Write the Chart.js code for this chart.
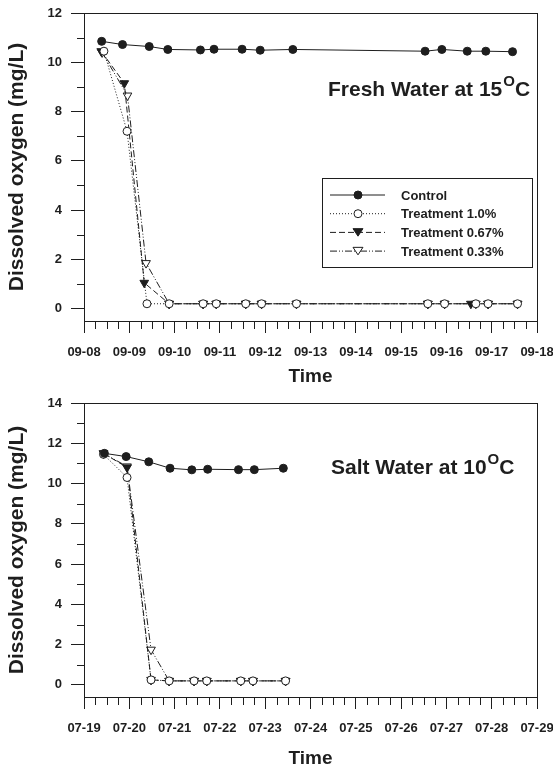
<!DOCTYPE html>
<html>
<head>
<meta charset="utf-8">
<script src="https://cdn.jsdelivr.net/npm/chart.js@4.4.1/dist/chart.umd.min.js"></script>
<style>
  body { margin: 0; background: #fff; width: 553px; height: 766px; overflow: hidden; position: relative; }
  canvas { position: absolute; left: 0; }
  #fresh { top: 0; }
  #salt { top: 380px; }
</style>
</head>
<body>
<canvas id="fresh" width="553" height="388"></canvas>
<canvas id="salt" width="553" height="390"></canvas>
<script>
// tick labels (days since first date)
const freshDates = ['09-08', '09-09', '09-10', '09-11', '09-12', '09-13', '09-14', '09-15', '09-16', '09-17', '09-18'];
const saltDates = ['07-19', '07-20', '07-21', '07-22', '07-23', '07-24', '07-25', '07-26', '07-27', '07-28', '07-29'];
const freshYTicks = [0, 2, 4, 6, 8, 10, 12];
const saltYTicks = [0, 2, 4, 6, 8, 10, 12, 14];

// fresh water 15C
const freshControlT = [0.39, 0.85, 1.44, 1.85, 2.57, 2.87, 3.49, 3.89, 4.61, 7.53, 7.90, 8.46, 8.87, 9.46];
const freshControl = [10.85, 10.72, 10.64, 10.52, 10.50, 10.53, 10.53, 10.49, 10.52, 10.45, 10.52, 10.45, 10.45, 10.43];
const fresh10T = [0.44, 0.95, 1.39, 1.88, 2.63, 2.92, 3.57, 3.92, 4.69, 7.59, 7.96, 8.65, 8.92, 9.57];
const fresh10 = [10.45, 7.2, 0.2, 0.2, 0.2, 0.2, 0.2, 0.2, 0.2, 0.2, 0.2, 0.2, 0.2, 0.2];
const fresh067T = [0.38, 0.89, 1.33, 1.88, 2.63, 2.92, 3.57, 3.92, 4.69, 7.59, 7.96, 8.54, 8.92, 9.57];
const fresh067 = [10.45, 9.15, 1.05, 0.2, 0.2, 0.2, 0.2, 0.2, 0.2, 0.2, 0.2, 0.2, 0.2, 0.2];
const fresh033T = [0.40, 0.96, 1.37, 1.88, 2.63, 2.92, 3.57, 3.92, 4.69, 7.59, 7.96, 8.65, 8.92, 9.57];
const fresh033 = [10.4, 8.65, 1.85, 0.2, 0.2, 0.2, 0.2, 0.2, 0.2, 0.2, 0.2, 0.2, 0.2, 0.2];

// salt water 10C
const saltControlT = [0.45, 0.93, 1.43, 1.90, 2.38, 2.73, 3.41, 3.76, 4.40];
const saltControl = [11.5, 11.34, 11.08, 10.76, 10.68, 10.71, 10.69, 10.69, 10.76];
const saltTreatT = [0.43, 0.95, 1.48, 1.88, 2.43, 2.71, 3.46, 3.73, 4.45];
const salt10 = [11.45, 10.3, 0.25, 0.2, 0.2, 0.2, 0.2, 0.2, 0.2];
const salt067 = [11.5, 10.8, 0.25, 0.2, 0.2, 0.2, 0.2, 0.2, 0.2];
const salt033 = [11.5, 10.85, 1.75, 0.2, 0.2, 0.2, 0.2, 0.2, 0.2];

const seriesNames = ['Control', 'Treatment 1.0%', 'Treatment 0.67%', 'Treatment 0.33%'];

const FONT = '"Liberation Sans", Arial, sans-serif';
const INK = '#1e1e1e';

function pts(xs, ys) {
  return xs.map((x, i) => ({ x: x, y: ys[i] }));
}

// line dash + marker style per series
const styles = [
  { dash: [], shape: 'circle', fill: INK, r: 4 },
  { dash: [1, 2], shape: 'circle', fill: '#fff', r: 4 },
  { dash: [6, 3], shape: 'triangle', fill: INK, r: 5 },
  { dash: [7, 2, 1, 2, 1, 2], shape: 'triangle', fill: '#fff', r: 5 }
];

function makeSets(list) {
  return list.map((d, i) => ({
    label: seriesNames[i],
    data: d,
    borderColor: INK,
    borderWidth: 1,
    borderDash: styles[i].dash,
    pointStyle: styles[i].shape,
    rotation: styles[i].shape === 'triangle' ? 180 : 0,
    pointRadius: styles[i].r,
    pointBackgroundColor: styles[i].fill,
    pointBorderColor: INK,
    pointBorderWidth: 1,
    tension: 0
  }));
}

function marker(ctx, s, x, y) {
  ctx.beginPath();
  if (s.shape === 'circle') {
    ctx.arc(x, y, s.r, 0, Math.PI * 2);
  } else {
    const h = s.r * 1.5, w = s.r * 1.3;
    ctx.moveTo(x - w / 1.5 * 1.15, y - h / 2);
    ctx.lineTo(x + w / 1.5 * 1.15, y - h / 2);
    ctx.lineTo(x, y + h / 2);
    ctx.closePath();
  }
  ctx.fillStyle = s.fill;
  ctx.fill();
  ctx.strokeStyle = INK;
  ctx.stroke();
}

// frame, minor ticks, caption and legend
const framePlugin = {
  id: 'frame',
  afterDraw(chart, args, opts) {
    const { ctx, chartArea: a, scales: { x, y } } = chart;
    ctx.save();
    ctx.strokeStyle = INK;
    ctx.lineWidth = 1;
    ctx.strokeRect(Math.round(a.left) + 0.5, Math.round(a.top) + 0.5, Math.round(a.right - a.left), Math.round(a.bottom - a.top));
    ctx.beginPath();
    for (let v = x.min; v <= x.max; v += 0.25) {
      if (Math.abs(v - Math.round(v)) < 0.01) continue;
      const px = Math.round(x.getPixelForValue(v)) + 0.5;
      ctx.moveTo(px, a.bottom);
      ctx.lineTo(px, a.bottom + 8);
    }
    for (let v = 1; v < y.max; v += 2) {
      const py = Math.round(y.getPixelForValue(v)) + 0.5;
      ctx.moveTo(a.left - 7, py);
      ctx.lineTo(a.left, py);
    }
    ctx.stroke();

    // caption with superscript
    const c = opts.caption;
    ctx.fillStyle = INK;
    ctx.textBaseline = 'alphabetic';
    ctx.textAlign = 'left';
    ctx.font = 'bold 21px ' + FONT;
    ctx.fillText(c.main, c.x, c.y);
    let cx = c.x + ctx.measureText(c.main).width;
    ctx.font = 'bold 15px ' + FONT;
    ctx.fillText('O', cx + 1, c.y - 10);
    cx += ctx.measureText('O').width + 1;
    ctx.font = 'bold 21px ' + FONT;
    ctx.fillText('C', cx, c.y);

    // legend box
    const L = opts.legend;
    if (L) {
      ctx.fillStyle = '#fff';
      ctx.fillRect(L.x, L.y, L.w, L.h);
      ctx.strokeRect(L.x + 0.5, L.y + 0.5, L.w, L.h);
      chart.data.datasets.forEach((ds, i) => {
        const ry = L.y + L.first + i * L.step;
        ctx.setLineDash(styles[i].dash);
        ctx.beginPath();
        ctx.moveTo(L.x + 8, ry);
        ctx.lineTo(L.x + 63, ry);
        ctx.stroke();
        ctx.setLineDash([]);
        marker(ctx, styles[i], L.x + 36, ry);
        ctx.fillStyle = INK;
        ctx.font = 'bold 13px ' + FONT;
        ctx.textBaseline = 'middle';
        ctx.fillText(ds.label, L.x + 79, ry + 1);
      });
    }
    ctx.restore();
  }
};

function makeChart(id, sets, dates, yTicks, yMin, yMax, padTop, xHeight, caption, legend) {
  return new Chart(document.getElementById(id), {
    type: 'line',
    data: { datasets: sets },
    plugins: [framePlugin],
    options: {
      responsive: false,
      animation: false,
      layout: { padding: { top: padTop, right: 16, left: 0, bottom: 0 } },
      plugins: {
        legend: { display: false },
        tooltip: { enabled: false },
        frame: { caption: caption, legend: legend }
      },
      scales: {
        x: {
          type: 'linear',
          min: 0,
          max: dates.length - 1,
          afterBuildTicks: s => { s.ticks = dates.map((d, i) => ({ value: i })); },
          afterFit: s => { s.height = xHeight; s.paddingLeft = 0; s.paddingRight = 0; },
          border: { display: false },
          grid: { drawOnChartArea: false, tickLength: 12, color: INK },
          ticks: {
            padding: 12,
            color: INK,
            font: { family: FONT, size: 13, weight: 'bold' },
            callback: (v, i) => dates[i]
          },
          title: {
            display: true,
            text: 'Time',
            color: INK,
            font: { family: FONT, size: 19, weight: 'bold' },
            padding: { top: 0, bottom: 0 }
          }
        },
        y: {
          min: yMin,
          max: yMax,
          afterBuildTicks: s => { s.ticks = yTicks.map(v => ({ value: v })); },
          afterFit: s => { s.width = 84; s.paddingTop = 0; s.paddingBottom = 0; },
          border: { display: false },
          grid: { drawOnChartArea: false, tickLength: 13, color: INK },
          ticks: {
            padding: 9,
            color: INK,
            font: { family: FONT, size: 13, weight: 'bold' },
            callback: v => String(v)
          },
          title: {
            display: true,
            text: 'Dissolved oxygen (mg/L)',
            color: INK,
            font: { family: FONT, size: 21, weight: 'bold' },
            padding: { top: 5, bottom: 0 }
          }
        }
      }
    }
  });
}

makeChart('fresh',
  makeSets([pts(freshControlT, freshControl), pts(fresh10T, fresh10), pts(fresh067T, fresh067), pts(fresh033T, fresh033)]),
  freshDates, freshYTicks, -0.5, 12, 13, 67,
  { main: 'Fresh Water at 15', x: 328, y: 96 },
  { x: 322, y: 178, w: 210, h: 89, first: 17, step: 18.7 });

makeChart('salt',
  makeSets([pts(saltControlT, saltControl), pts(saltTreatT, salt10), pts(saltTreatT, salt067), pts(saltTreatT, salt033)]),
  saltDates, saltYTicks, -0.6, 14, 23, 73,
  { main: 'Salt Water at 10', x: 331, y: 94 },
  null);
</script>
</body>
</html>
